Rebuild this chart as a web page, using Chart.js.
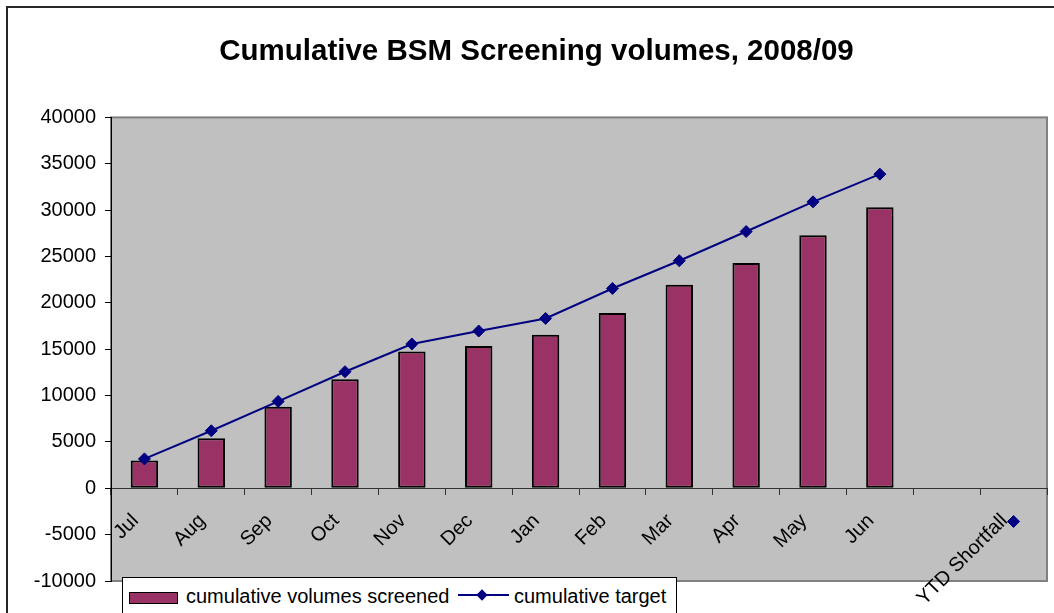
<!DOCTYPE html>
<html>
<head>
<meta charset="utf-8">
<title>Cumulative BSM Screening volumes, 2008/09</title>
<script src="https://cdn.jsdelivr.net/npm/chart.js@4.4.1/dist/chart.umd.min.js"></script>
<style>
html, body { margin:0; padding:0; background:#ffffff; overflow:hidden; }
body { width:1054px; height:613px; position:relative; font-family:"Liberation Sans", Arial, sans-serif; }
#frame { position:absolute; left:6px; top:6px; width:1200px; height:800px; border-left:2px solid #262626; border-top:2px solid #262626; }
#wrap { position:absolute; left:0; top:0; width:1054px; height:613px; }
#legend { position:absolute; left:122px; top:577px; width:553px; height:45px; background:#ffffff; border:1px solid #000000; }
#legend .txt { position:absolute; top:6px; font-size:20px; line-height:24px; color:#000000; white-space:nowrap; }
#barKey { position:absolute; left:6px; top:14px; width:47px; height:10px; background:#993366; border:1px solid #000000; }
#lineKey { position:absolute; left:335px; top:16px; width:51px; height:2px; background:#000080; }
#dotKey { position:absolute; left:355px; top:13px; width:8px; height:8px; background:#000080; transform:rotate(45deg); }
</style>
</head>
<body>
<div id="frame"></div>
<div id="wrap"><canvas id="bsmChart"></canvas></div>
<div id="legend">
  <div id="barKey"></div>
  <span class="txt" style="left:63px">cumulative volumes screened</span>
  <div id="lineKey"></div>
  <div id="dotKey"></div>
  <span class="txt" style="left:391px">cumulative target</span>
</div>
<script>
// ===========================================
// DATA
// ===========================================

const months = ["Jul","Aug","Sep","Oct","Nov","Dec","Jan","Feb","Mar","Apr","May","Jun","","YTD Shortfall"];

const screened = [3000,5400,8800,11750,14750,15350,16550,18900,21950,24300,27300,30300,null,null];

const target = [3170,6200,9370,12570,15560,16960,18320,21550,24540,27690,30890,33880,null,-3580];

const yMin = -10000;
const yMax = 40000;
const yStep = 5000;

// ===========================================
// PLOT AREA BACKGROUND
// ===========================================

const plotBackground = {
    id: "plotBackground",
    beforeDraw(chart){
        const {ctx, chartArea:a} = chart;
        ctx.save();
        ctx.fillStyle = "#c0c0c0";
        ctx.fillRect(a.left, a.top, a.right - a.left, a.bottom - a.top);
        ctx.strokeStyle = "#808080";
        ctx.lineWidth = 2;
        ctx.strokeRect(a.left, a.top, a.right - a.left, a.bottom - a.top);
        ctx.restore();
    }
};

// ===========================================
// CHART
// ===========================================

const font = "'Liberation Sans', Arial, sans-serif";

new Chart(document.getElementById("bsmChart"), {
    data: {
        labels: months,
        datasets: [
            {
                type: "line",
                label: "cumulative target",
                data: target,
                borderColor: "#000080",
                backgroundColor: "#000080",
                borderWidth: 2,
                pointStyle: "rectRot",
                pointRadius: 6,
                pointBorderWidth: 1,
                pointBackgroundColor: "#000080",
                spanGaps: false,
                order: 0
            },
            {
                type: "bar",
                label: "cumulative volumes screened",
                data: screened,
                backgroundColor: "#993366",
                borderColor: "#000000",
                borderWidth: 2,
                borderSkipped: false,
                barPercentage: 0.41,
                categoryPercentage: 1,
                order: 1
            }
        ]
    },
    options: {
        responsive: true,
        maintainAspectRatio: false,
        animation: false,
        layout: { padding: { left: 22, right: 3, top: 0, bottom: 32 } },
        plugins: {
            legend: { display: false },
            tooltip: { enabled: false },
            title: {
                display: true,
                text: "Cumulative BSM Screening volumes, 2008/09",
                color: "#000000",
                font: { family: font, size: 29.5, weight: "bold" },
                padding: { top: 34, bottom: 48 }
            }
        },
        scales: {
            x: {
                type: "category",
                position: { y: 0 },
                offset: true,
                border: { display: true, color: "#333333", width: 1 },
                grid: {
                    offset: true,
                    drawOnChartArea: false,
                    drawTicks: true,
                    tickLength: 6,
                    tickColor: "#333333"
                },
                ticks: {
                    autoSkip: false,
                    maxRotation: 45,
                    minRotation: 45,
                    padding: 15,
                    labelOffset: -9,
                    color: "#000000",
                    font: { family: font, size: 20 }
                }
            },
            y: {
                min: yMin,
                max: yMax,
                afterFit(scale){ scale.width = 89; },
                border: { display: true, color: "#000000", width: 1 },
                grid: {
                    drawOnChartArea: false,
                    drawTicks: true,
                    tickLength: 6,
                    tickColor: "#000000"
                },
                ticks: {
                    stepSize: yStep,
                    padding: 9,
                    color: "#000000",
                    font: { family: font, size: 20 },
                    callback: (v) => String(v)
                }
            }
        }
    },
    plugins: [plotBackground]
});
</script>
</body>
</html>
